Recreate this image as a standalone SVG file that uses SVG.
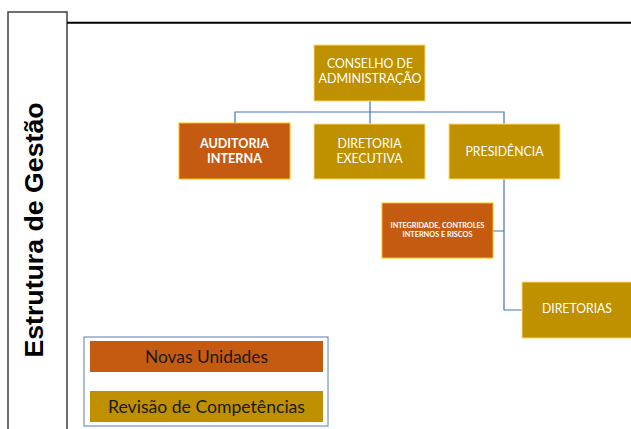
<svg xmlns="http://www.w3.org/2000/svg" width="631" height="429" viewBox="0 0 631 429">
<style>
.gold{fill:#BF9000;stroke:#FFD966;stroke-width:1}
.orange{fill:#C55A11;stroke:#FFC000;stroke-width:1}
.t{font-family:Lato,"Liberation Sans",sans-serif;fill:#FFFFFF;text-anchor:middle;font-size:13px}
.tb{font-family:Lato,"Liberation Sans",sans-serif;fill:#FFFFFF;text-anchor:middle;font-weight:bold;font-size:13px}
.lg{font-family:Lato,"Liberation Sans",sans-serif;fill:#1A1A1A;text-anchor:middle;font-size:17px}
.conn{fill:none;stroke:#4472C4;stroke-width:1.2}
</style>
<rect width="631" height="429" fill="#FFFFFF"/>
<g id="frame">
<rect x="8" y="12" width="59" height="440" fill="#FFFFFF" stroke="#404040" stroke-width="1.5"/>
<line x1="67" y1="22.7" x2="631" y2="22.7" stroke="#000000" stroke-width="2"/>
<text transform="translate(43,230) rotate(-90)" font-family="'Liberation Sans',Arial,sans-serif" font-weight="bold" font-size="26.7" text-anchor="middle" fill="#000000">Estrutura de Gestão</text>
</g>
<g id="connectors">
<path class="conn" d="M370,101 V112 M235,123 V112 H504 V124 M370,112 V124 M504,179 V310 H522 M504,231 H493"/>
</g>
<g id="conselho">
<rect class="gold" x="314" y="45" width="111" height="56"/>
<text class="t" x="370" y="68" textLength="86" lengthAdjust="spacingAndGlyphs">CONSELHO DE</text>
<text class="t" x="370" y="83" textLength="103" lengthAdjust="spacingAndGlyphs">ADMINISTRAÇÃO</text>
</g>
<g id="auditoria">
<rect class="orange" x="179" y="123" width="111" height="56"/>
<text class="tb" x="234.5" y="148" textLength="69" lengthAdjust="spacingAndGlyphs">AUDITORIA</text>
<text class="tb" x="234.5" y="163" textLength="55" lengthAdjust="spacingAndGlyphs">INTERNA</text>
</g>
<g id="diretoria-executiva">
<rect class="gold" x="314" y="124" width="111" height="55"/>
<text class="t" x="369.5" y="148" textLength="64" lengthAdjust="spacingAndGlyphs">DIRETORIA</text>
<text class="t" x="369.5" y="163" textLength="66" lengthAdjust="spacingAndGlyphs">EXECUTIVA</text>
</g>
<g id="presidencia">
<rect class="gold" x="449" y="124" width="111" height="55"/>
<text class="t" x="504.5" y="156" textLength="78" lengthAdjust="spacingAndGlyphs">PRESIDÊNCIA</text>
</g>
<g id="integridade">
<rect class="orange" x="382" y="203" width="111" height="55"/>
<text class="tb" x="437.5" y="228" font-size="7.5" style="font-size:7.5px" textLength="94" lengthAdjust="spacingAndGlyphs">INTEGRIDADE, CONTROLES</text>
<text class="tb" x="437.5" y="237" style="font-size:7.5px" textLength="70" lengthAdjust="spacingAndGlyphs">INTERNOS E RISCOS</text>
</g>
<g id="diretorias">
<rect class="gold" x="522" y="282" width="111" height="56"/>
<text class="t" x="577" y="313" textLength="70" lengthAdjust="spacingAndGlyphs">DIRETORIAS</text>
</g>
<g id="legend">
<rect x="84" y="337" width="244" height="89" fill="#FFFFFF" stroke="#5B7DB5" stroke-width="1"/>
<rect x="90" y="341" width="233" height="31" fill="#C55A11"/>
<text class="lg" x="206.5" y="363" textLength="123" lengthAdjust="spacingAndGlyphs">Novas Unidades</text>
<rect x="90" y="391" width="233" height="31" fill="#BF9000"/>
<text class="lg" x="206.5" y="413" textLength="197" lengthAdjust="spacingAndGlyphs">Revisão de Competências</text>
</g>
</svg>
